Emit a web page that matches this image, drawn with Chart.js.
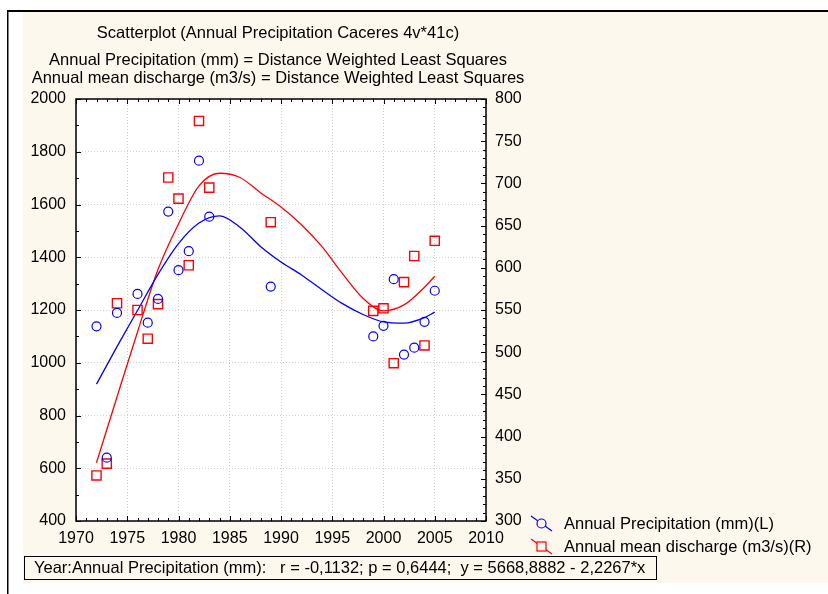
<!DOCTYPE html>
<html>
<head>
<meta charset="utf-8">
<script src="https://cdn.jsdelivr.net/npm/chart.js@4.4.0/dist/chart.umd.min.js"></script>
<style>
  html, body { margin: 0; padding: 0; background: #fff; }
</style>
</head>
<body>
<canvas id="scatter" width="828" height="594"></canvas>
<script>
const years = [1972, 1973, 1974, 1976, 1977, 1978, 1979, 1980, 1981, 1982, 1983, 1989, 1999, 2000, 2001, 2002, 2003, 2004, 2005];
const precipitation = [1138, 640, 1189, 1261, 1152, 1242, 1573, 1351, 1423, 1766, 1554, 1289, 1100, 1140, 1317, 1031, 1057, 1155, 1273];
const discharge = [354, 368, 558, 550, 516, 557, 707, 682, 603, 774, 695, 654, 549, 552, 487, 583, 614, 508, 632];

// distance weighted least squares curves
const fitYears = [1972, 1974, 1976, 1978, 1980, 1982, 1984, 1986, 1988, 1990, 1992, 1994, 1996, 1998, 2000, 2002, 2004, 2005];
const precipFit = [919, 1061, 1198, 1335, 1452, 1530, 1557, 1514, 1441, 1382, 1333, 1277, 1224, 1183, 1155, 1150, 1171, 1192];
const dischargeFit = [369, 447, 524, 598, 652, 697, 712, 707, 689, 672, 651, 625, 593, 564, 549, 556, 577, 590];

const titleLines = [
    'Scatterplot (Annual Precipitation Caceres 4v*41c)',
    'Annual Precipitation (mm) = Distance Weighted Least Squares',
    'Annual mean discharge (m3/s) = Distance Weighted Least Squares'
];
const statsText = 'Year:Annual Precipitation (mm):   r = -0,1132; p = 0,6444;  y = 5668,8882 - 2,2267*x';

const FONT = '"Liberation Sans", Arial, sans-serif';
const BLUE = '#0000ff';
const RED = '#ff0000';

function pairs(xs, ys) {
    return xs.map((x, i) => ({ x: x, y: ys[i] }));
}

const frame = {
    id: 'frame',
    beforeDraw(chart) {
        const ctx = chart.ctx, a = chart.chartArea;
        ctx.save();
        ctx.fillStyle = '#ffffff';
        ctx.fillRect(0, 0, chart.width, chart.height);
        ctx.fillStyle = '#fdf8ed';
        ctx.fillRect(23, 12, chart.width - 23, 571);
        ctx.fillStyle = '#000';
        ctx.fillRect(7, 10, chart.width - 7, 2);
        ctx.fillRect(7, 10, 1.5, chart.height - 10);
        ctx.fillStyle = '#ffffff';
        ctx.fillRect(a.left, a.top, a.right - a.left, a.bottom - a.top);
        ctx.restore();
    },
    afterDraw(chart) {
        const ctx = chart.ctx, a = chart.chartArea;
        const sx = chart.scales.x, sy = chart.scales.y, sy2 = chart.scales.y2;
        ctx.save();
        ctx.strokeStyle = '#000';
        ctx.lineWidth = 1;
        ctx.beginPath();
        for (let yr = 1970; yr <= 2010; yr++) {
            const px = Math.round(sx.getPixelForValue(yr)) + 0.5;
            const len = yr % 5 === 0 ? 5 : 3;
            ctx.moveTo(px, a.bottom); ctx.lineTo(px, a.bottom - len);
            ctx.moveTo(px, a.top); ctx.lineTo(px, a.top + len);
        }
        for (let v = 400; v <= 2000; v += 100) {
            const py = Math.round(sy.getPixelForValue(v)) + 0.5;
            const len = v % 200 === 0 ? 5 : 3;
            ctx.moveTo(a.left, py); ctx.lineTo(a.left + len, py);
        }
        for (let v = 300; v <= 800; v += 10) {
            const py = Math.round(sy2.getPixelForValue(v)) + 0.5;
            const len = v % 50 === 0 ? 5 : 3;
            ctx.moveTo(a.right, py); ctx.lineTo(a.right - len, py);
        }
        ctx.stroke();
        ctx.lineWidth = 1.5;
        ctx.strokeRect(a.left, a.top, a.right - a.left, a.bottom - a.top);

        // titles
        ctx.fillStyle = '#000';
        ctx.font = '16.5px ' + FONT;
        ctx.textAlign = 'center';
        ctx.textBaseline = 'middle';
        ctx.fillText(titleLines[0], 278, 33);
        ctx.fillText(titleLines[1], 278, 60);
        ctx.fillText(titleLines[2], 278, 78);

        // legend
        ctx.textAlign = 'left';
        ctx.lineWidth = 1.2;
        ctx.strokeStyle = BLUE;
        ctx.beginPath();
        ctx.moveTo(531, 516); ctx.lineTo(552, 531);
        ctx.stroke();
        ctx.beginPath();
        ctx.fillStyle = '#fdf8ed';
        ctx.arc(541.5, 523.5, 4.5, 0, Math.PI * 2);
        ctx.fill(); ctx.stroke();
        ctx.strokeStyle = RED;
        ctx.beginPath();
        ctx.moveTo(531, 539); ctx.lineTo(552, 554);
        ctx.stroke();
        ctx.fillRect(537, 542, 9, 9);
        ctx.strokeRect(537, 542, 9, 9);
        ctx.fillStyle = '#000';
        ctx.fillText(chart.data.datasets[0].label, 564, 524);
        ctx.fillText(chart.data.datasets[1].label, 564, 547);

        // stats box
        ctx.strokeStyle = '#000';
        ctx.lineWidth = 1;
        ctx.strokeRect(24.5, 556.5, 632, 23);
        ctx.fillText(statsText, 34, 568);
        ctx.restore();
    }
};

const tickFont = { family: FONT, size: 16 };

new Chart(document.getElementById('scatter'), {
    type: 'scatter',
    data: {
        datasets: [{
            label: 'Annual Precipitation (mm)(L)',
            data: pairs(years, precipitation),
            yAxisID: 'y',
            pointStyle: 'circle',
            pointRadius: 4.5,
            borderColor: BLUE,
            backgroundColor: 'rgba(0,0,0,0)',
            borderWidth: 1.2
        }, {
            label: 'Annual mean discharge (m3/s)(R)',
            data: pairs(years, discharge),
            yAxisID: 'y2',
            pointStyle: 'rect',
            pointRadius: 6.5,
            borderColor: RED,
            backgroundColor: 'rgba(0,0,0,0)',
            borderWidth: 1.4
        }, {
            label: 'precip fit',
            data: pairs(fitYears, precipFit),
            yAxisID: 'y',
            showLine: true,
            pointRadius: 0,
            borderColor: BLUE,
            borderWidth: 1.3,
            cubicInterpolationMode: 'monotone'
        }, {
            label: 'discharge fit',
            data: pairs(fitYears, dischargeFit),
            yAxisID: 'y2',
            showLine: true,
            pointRadius: 0,
            borderColor: RED,
            borderWidth: 1.3,
            cubicInterpolationMode: 'monotone'
        }]
    },
    options: {
        responsive: false,
        animation: false,
        layout: { padding: { left: 0, top: 99, right: 292, bottom: 0 } },
        plugins: {
            legend: { display: false },
            title: { display: false },
            tooltip: { enabled: false }
        },
        scales: {
            x: {
                type: 'linear', min: 1970, max: 2010,
                ticks: { stepSize: 5, padding: 8, color: '#000', font: tickFont, maxRotation: 0, autoSkip: false, callback: v => String(v) },
                grid: { color: '#cfcfcf', drawTicks: false },
                border: { display: false, dash: [1, 2] },
                afterFit: s => { s.height = 73; }
            },
            y: {
                position: 'left', min: 400, max: 2000,
                ticks: { stepSize: 200, padding: 10, color: '#000', font: tickFont, callback: v => String(v) },
                grid: { color: '#cfcfcf', drawTicks: false },
                border: { display: false, dash: [1, 2] },
                afterFit: s => { s.width = 76; }
            },
            y2: {
                position: 'right', min: 300, max: 800,
                ticks: { stepSize: 50, padding: 9, color: '#000', font: tickFont, callback: v => String(v) },
                grid: { display: false, drawTicks: false },
                border: { display: false },
                afterFit: s => { s.width = 50; }
            }
        }
    },
    plugins: [frame]
});
</script>
</body>
</html>
